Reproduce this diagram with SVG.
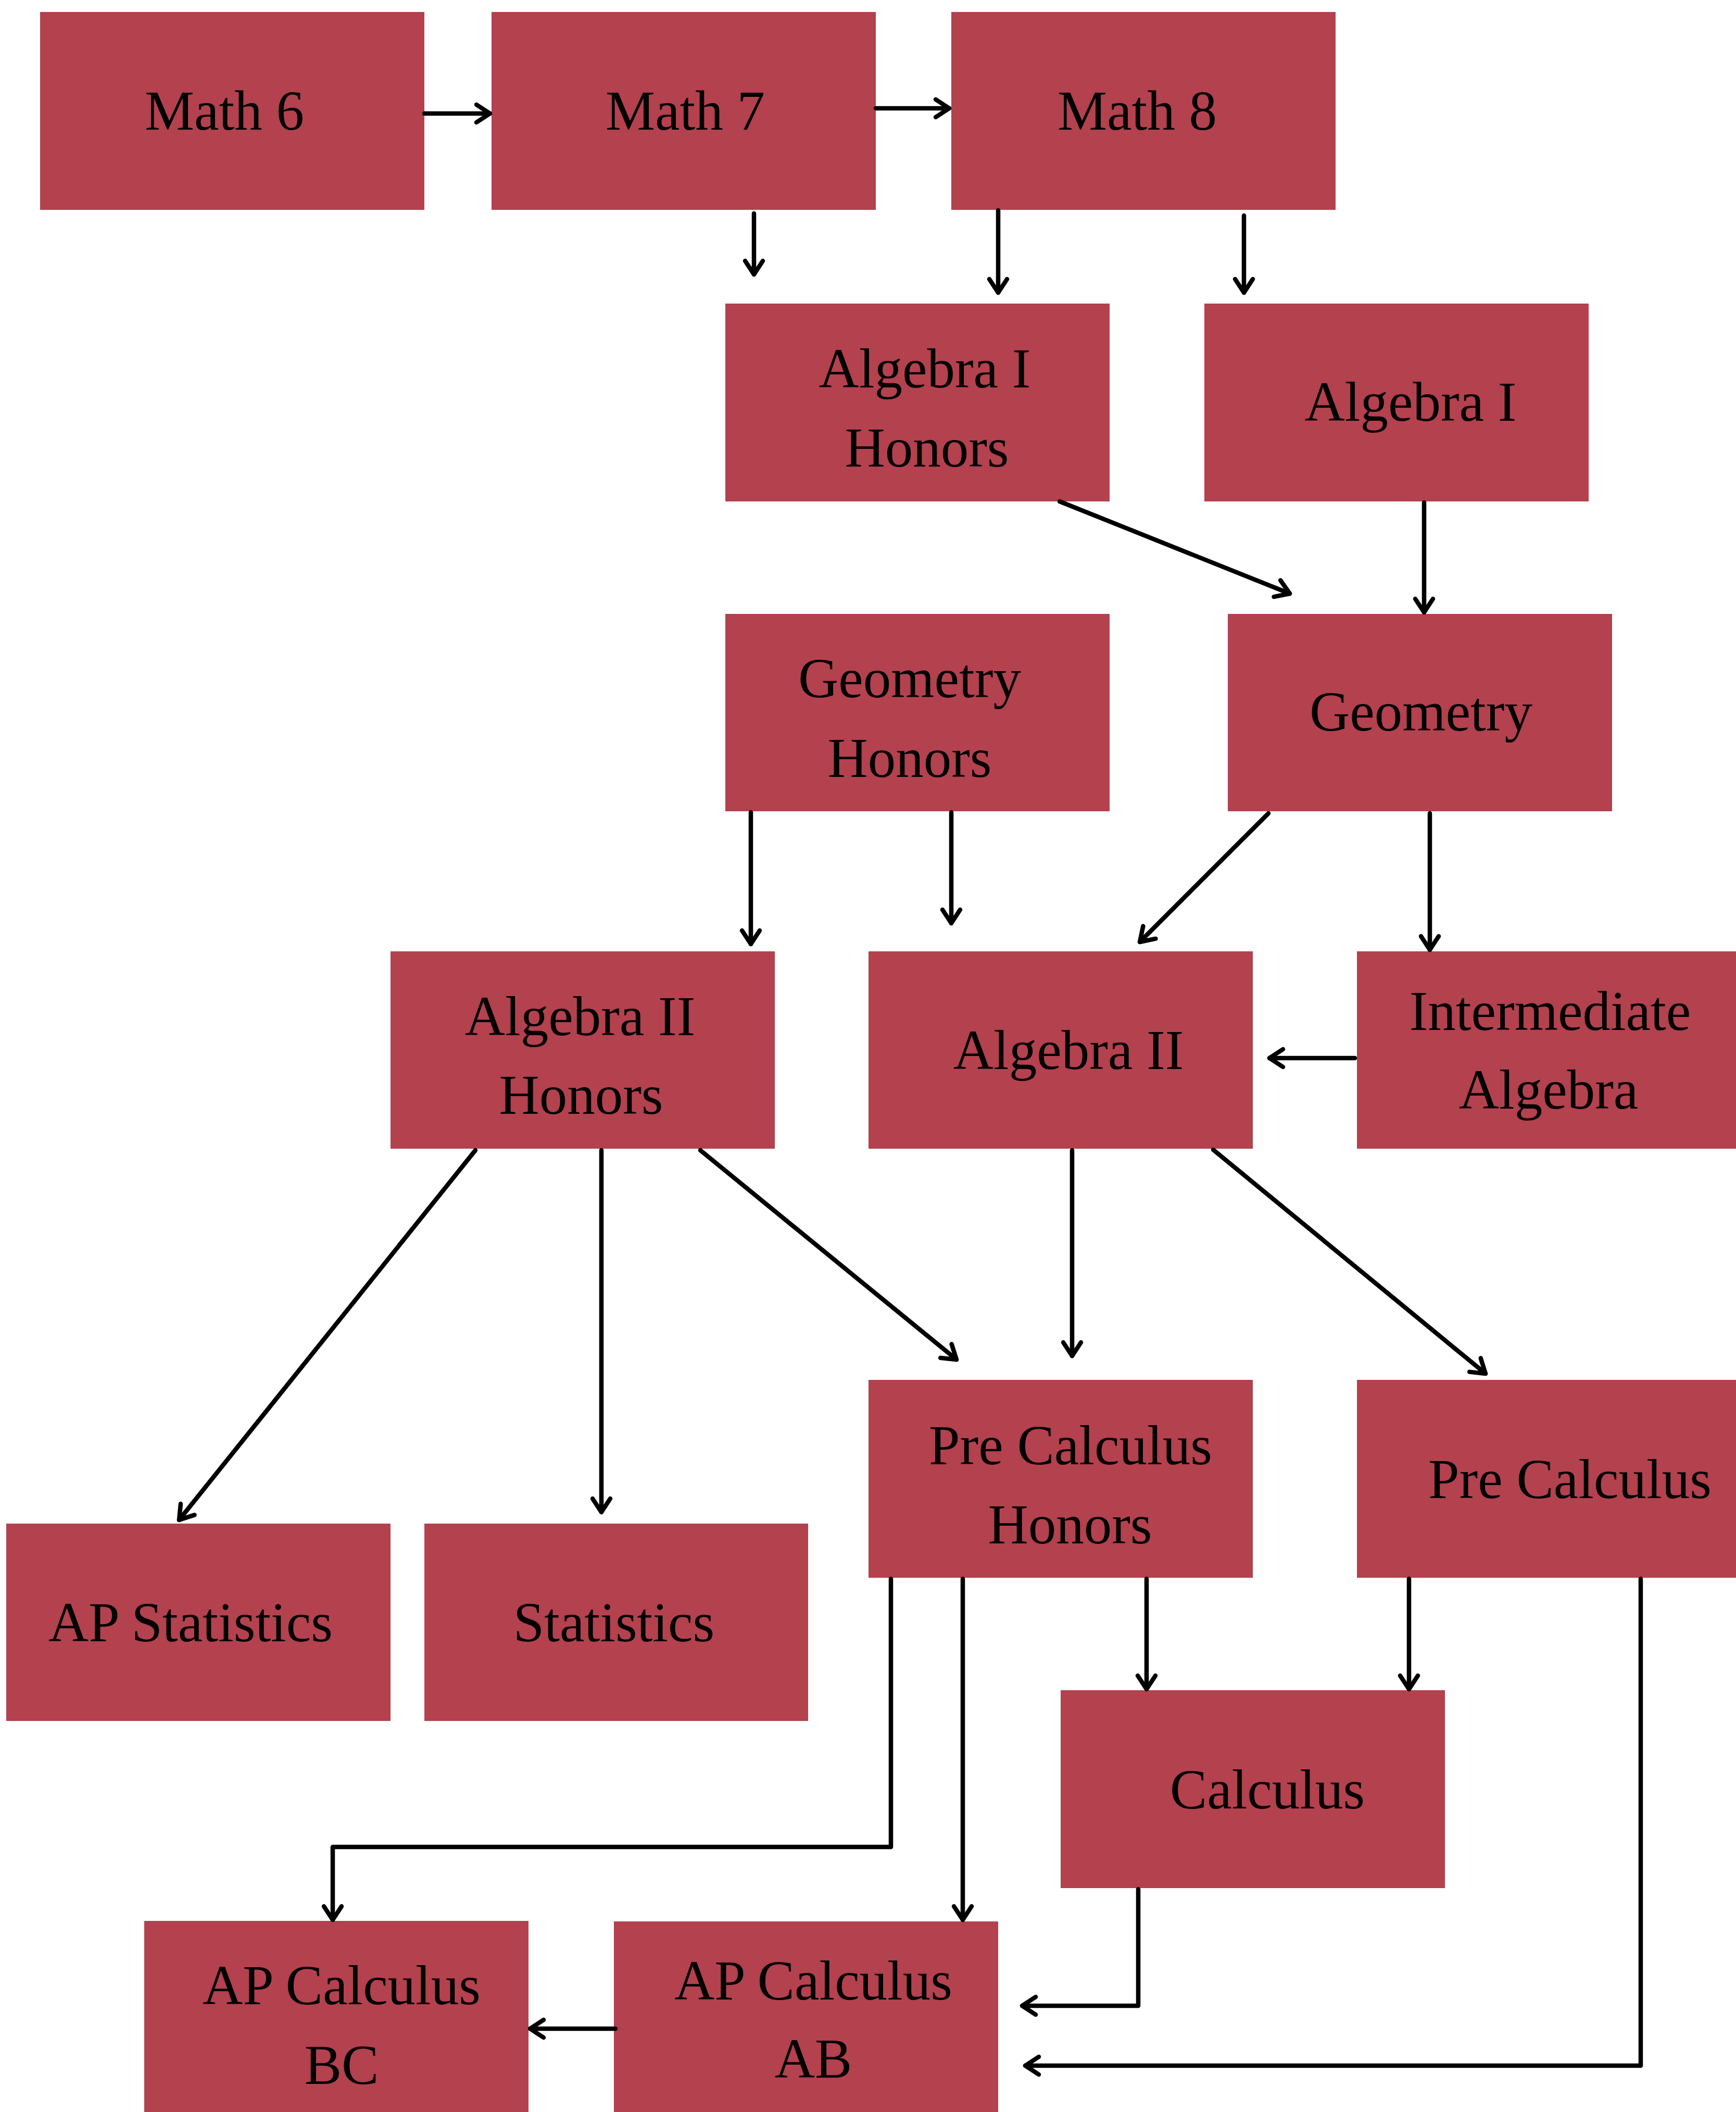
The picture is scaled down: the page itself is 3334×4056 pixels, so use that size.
<svg xmlns="http://www.w3.org/2000/svg" width="3334" height="4056" viewBox="0 0 3334 4056">
  <defs>
    <style>
      .box { fill: #B3414E; }
      .lbl { font-family: "Liberation Serif", "Times New Roman", serif; font-size: 107px; fill: #000; text-anchor: middle; }
      .edge { fill: none; stroke: #000; stroke-width: 8.5; stroke-linecap: round; stroke-linejoin: round; }
    </style>
    <marker id="arrow" markerUnits="userSpaceOnUse" markerWidth="60" markerHeight="60" viewBox="-40 -30 50 60" refX="0" refY="0" orient="auto">
      <path d="M-26,-17 L0,0 L-26,17" fill="none" stroke="#000" stroke-width="8.5" stroke-linecap="round" stroke-linejoin="round"/>
    </marker>
  </defs>
  <rect width="3334" height="4056" fill="#fff"/>

  <!-- course boxes -->
  <g id="math6"><rect class="box" x="77" y="23" width="738" height="380"/><text class="lbl" x="431" y="249">Math 6</text></g>
  <g id="math7"><rect class="box" x="944" y="23" width="738" height="380"/><text class="lbl" x="1316" y="249">Math 7</text></g>
  <g id="math8"><rect class="box" x="1827" y="23" width="738" height="380"/><text class="lbl" x="2184" y="249">Math 8</text></g>

  <g id="algebra1-honors"><rect class="box" x="1393" y="583" width="738" height="380"/><text class="lbl" x="1776" y="744">Algebra I</text><text class="lbl" x="1780" y="896">Honors</text></g>
  <g id="algebra1"><rect class="box" x="2313" y="583" width="738" height="380"/><text class="lbl" x="2709" y="808">Algebra I</text></g>

  <g id="geometry-honors"><rect class="box" x="1393" y="1179" width="738" height="379"/><text class="lbl" x="1747" y="1339">Geometry</text><text class="lbl" x="1747" y="1492">Honors</text></g>
  <g id="geometry"><rect class="box" x="2358" y="1179" width="738" height="379"/><text class="lbl" x="2729" y="1403">Geometry</text></g>

  <g id="algebra2-honors"><rect class="box" x="750" y="1827" width="738" height="379"/><text class="lbl" x="1114" y="1988">Algebra II</text><text class="lbl" x="1116" y="2139">Honors</text></g>
  <g id="algebra2"><rect class="box" x="1668" y="1827" width="738" height="379"/><text class="lbl" x="2052" y="2053">Algebra II</text></g>
  <g id="intermediate-algebra"><rect class="box" x="2606" y="1827" width="728" height="379"/><text class="lbl" x="2977" y="1978">Intermediate</text><text class="lbl" x="2974" y="2129">Algebra</text></g>

  <g id="precalc-honors"><rect class="box" x="1668" y="2650" width="738" height="380"/><text class="lbl" x="2056" y="2812">Pre Calculus</text><text class="lbl" x="2055" y="2964">Honors</text></g>
  <g id="precalc"><rect class="box" x="2606" y="2650" width="728" height="380"/><text class="lbl" x="3015" y="2877">Pre Calculus</text></g>

  <g id="ap-statistics"><rect class="box" x="12" y="2926" width="738" height="379"/><text class="lbl" x="366" y="3152">AP Statistics</text></g>
  <g id="statistics"><rect class="box" x="815" y="2926" width="737" height="379"/><text class="lbl" x="1179" y="3152">Statistics</text></g>

  <g id="calculus"><rect class="box" x="2037" y="3246" width="738" height="380"/><text class="lbl" x="2434" y="3473">Calculus</text></g>

  <g id="ap-calc-bc"><rect class="box" x="277" y="3689" width="738" height="367"/><text class="lbl" x="656" y="3849">AP Calculus</text><text class="lbl" x="656" y="4002">BC</text></g>
  <g id="ap-calc-ab"><rect class="box" x="1179" y="3690" width="738" height="366"/><text class="lbl" x="1562" y="3840">AP Calculus</text><text class="lbl" x="1562" y="3990">AB</text></g>

  <!-- connectors -->
  <g id="connectors">
    <path class="edge" d="M815,218 L941,218" marker-end="url(#arrow)"/>
    <path class="edge" d="M1682,208 L1823,208" marker-end="url(#arrow)"/>
    <path class="edge" d="M1448,410 L1448,527" marker-end="url(#arrow)"/>
    <path class="edge" d="M1917,404 L1917,562" marker-end="url(#arrow)"/>
    <path class="edge" d="M2389,414 L2389,562" marker-end="url(#arrow)"/>
    <path class="edge" d="M2035,963 L2477,1140" marker-end="url(#arrow)"/>
    <path class="edge" d="M2735,965 L2735,1176" marker-end="url(#arrow)"/>
    <path class="edge" d="M1442,1560 L1442,1813" marker-end="url(#arrow)"/>
    <path class="edge" d="M1827,1560 L1827,1773" marker-end="url(#arrow)"/>
    <path class="edge" d="M2436,1562 L2189,1809" marker-end="url(#arrow)"/>
    <path class="edge" d="M2746,1562 L2746,1824" marker-end="url(#arrow)"/>
    <path class="edge" d="M2602,2032 L2438,2032" marker-end="url(#arrow)"/>
    <path class="edge" d="M913,2209 L344,2919" marker-end="url(#arrow)"/>
    <path class="edge" d="M1155,2209 L1155,2904" marker-end="url(#arrow)"/>
    <path class="edge" d="M1345,2209 L1837,2611" marker-end="url(#arrow)"/>
    <path class="edge" d="M2059,2209 L2059,2604" marker-end="url(#arrow)"/>
    <path class="edge" d="M2330,2208 L2853,2638" marker-end="url(#arrow)"/>
    <path class="edge" d="M1711,3032 L1711,3547 L639,3547 L639,3687" marker-end="url(#arrow)"/>
    <path class="edge" d="M1849,3032 L1849,3687" marker-end="url(#arrow)"/>
    <path class="edge" d="M2202,3032 L2202,3244" marker-end="url(#arrow)"/>
    <path class="edge" d="M2706,3032 L2706,3244" marker-end="url(#arrow)"/>
    <path class="edge" d="M2186,3628 L2186,3852 L1963,3852" marker-end="url(#arrow)"/>
    <path class="edge" d="M3151,3032 L3151,3967 L1969,3967" marker-end="url(#arrow)"/>
    <path class="edge" d="M1182,3896 L1018,3896" marker-end="url(#arrow)"/>
  </g>
</svg>
